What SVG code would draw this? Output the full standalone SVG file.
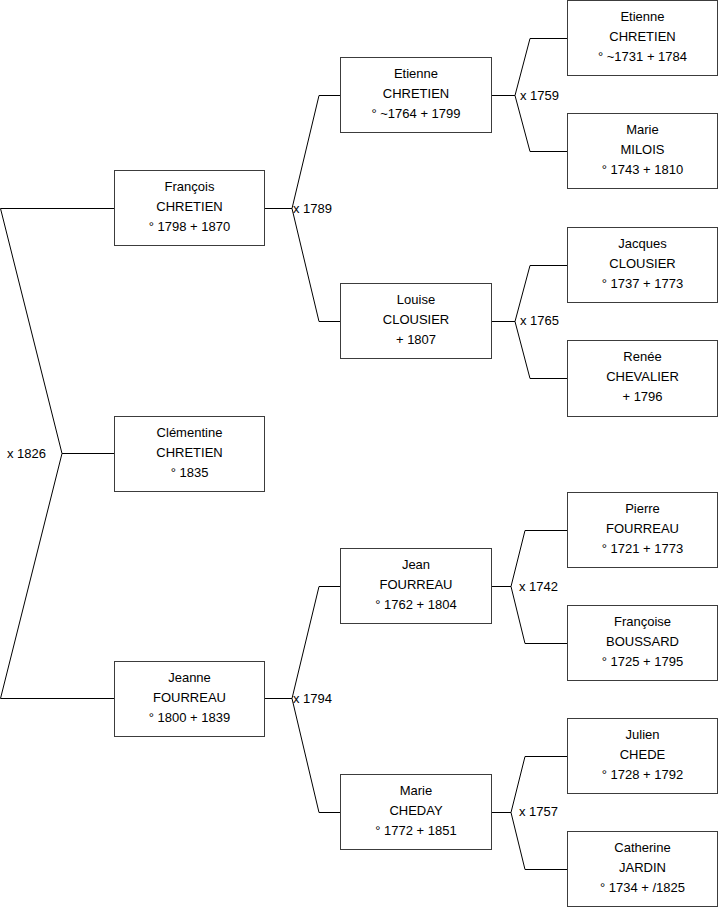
<svg xmlns="http://www.w3.org/2000/svg" width="719" height="908" viewBox="0 0 719 908">
<style>
.box{fill:#fff;stroke:#3c3c3c;stroke-width:1}
.con{fill:none;stroke:#000;stroke-width:1}
text{font-family:"Liberation Sans",Arial,sans-serif;font-size:13px;fill:#000}
.c{text-anchor:middle}
</style>
<rect width="719" height="908" fill="#fff"/>
<g id="connectors" class="con">
<path d="M114 208.5H0.5L62 453.5L0.5 698.5H114M62 453.5H114"/>
<path d="M265 208.5H292M340 95.5H319L292 208.5L319 321.5H340"/>
<path d="M265 698.5H292M340 586.5H319L292 698.5L319 812.5H340"/>
<path d="M491 95.5H515M567 38.5H530L515 95.5L530 151.5H567"/>
<path d="M491 321.5H515M567 265.5H530L515 321.5L530 378.5H567"/>
<path d="M491 586.5H511M567 530.5H525L511 586.5L525 643.5H567"/>
<path d="M491 812.5H511M567 756.5H525L511 812.5L525 869.5H567"/>
</g>
<g id="labels">
<text x="7" y="458">x 1826</text>
<text x="293" y="213">x 1789</text>
<text x="293" y="703">x 1794</text>
<text x="520" y="100">x 1759</text>
<text x="520" y="325">x 1765</text>
<text x="519" y="591">x 1742</text>
<text x="519" y="816">x 1757</text>
</g>
<g id="francois"><rect class="box" x="114.5" y="170.5" width="150" height="75"/><text class="c" x="189.5" y="191">François</text><text class="c" x="189.5" y="211">CHRETIEN</text><text class="c" x="189.5" y="231">° 1798 + 1870</text></g>
<g id="clementine"><rect class="box" x="114.5" y="416.5" width="150" height="75"/><text class="c" x="189.5" y="437">Clémentine</text><text class="c" x="189.5" y="457">CHRETIEN</text><text class="c" x="189.5" y="477">° 1835</text></g>
<g id="jeanne"><rect class="box" x="114.5" y="661.5" width="150" height="75"/><text class="c" x="189.5" y="682">Jeanne</text><text class="c" x="189.5" y="702">FOURREAU</text><text class="c" x="189.5" y="722">° 1800 + 1839</text></g>
<g id="etienne1"><rect class="box" x="340.5" y="57.5" width="151" height="75"/><text class="c" x="416" y="78">Etienne</text><text class="c" x="416" y="98">CHRETIEN</text><text class="c" x="416" y="118">° ~1764 + 1799</text></g>
<g id="louise"><rect class="box" x="340.5" y="283.5" width="151" height="75"/><text class="c" x="416" y="304">Louise</text><text class="c" x="416" y="324">CLOUSIER</text><text class="c" x="416" y="344">+ 1807</text></g>
<g id="jean"><rect class="box" x="340.5" y="548.5" width="151" height="75"/><text class="c" x="416" y="569">Jean</text><text class="c" x="416" y="589">FOURREAU</text><text class="c" x="416" y="609">° 1762 + 1804</text></g>
<g id="marie1"><rect class="box" x="340.5" y="774.5" width="151" height="75"/><text class="c" x="416" y="795">Marie</text><text class="c" x="416" y="815">CHEDAY</text><text class="c" x="416" y="835">° 1772 + 1851</text></g>
<g id="etienne2"><rect class="box" x="567.5" y="0.5" width="150" height="75"/><text class="c" x="642.5" y="21">Etienne</text><text class="c" x="642.5" y="41">CHRETIEN</text><text class="c" x="642.5" y="61">° ~1731 + 1784</text></g>
<g id="marie2"><rect class="box" x="567.5" y="113.5" width="150" height="75"/><text class="c" x="642.5" y="134">Marie</text><text class="c" x="642.5" y="154">MILOIS</text><text class="c" x="642.5" y="174">° 1743 + 1810</text></g>
<g id="jacques"><rect class="box" x="567.5" y="227.5" width="150" height="75"/><text class="c" x="642.5" y="248">Jacques</text><text class="c" x="642.5" y="268">CLOUSIER</text><text class="c" x="642.5" y="288">° 1737 + 1773</text></g>
<g id="renee"><rect class="box" x="567.5" y="340.5" width="150" height="76"/><text class="c" x="642.5" y="361">Renée</text><text class="c" x="642.5" y="381">CHEVALIER</text><text class="c" x="642.5" y="401">+ 1796</text></g>
<g id="pierre"><rect class="box" x="567.5" y="492.5" width="150" height="75"/><text class="c" x="642.5" y="513">Pierre</text><text class="c" x="642.5" y="533">FOURREAU</text><text class="c" x="642.5" y="553">° 1721 + 1773</text></g>
<g id="francoise"><rect class="box" x="567.5" y="605.5" width="150" height="75"/><text class="c" x="642.5" y="626">Françoise</text><text class="c" x="642.5" y="646">BOUSSARD</text><text class="c" x="642.5" y="666">° 1725 + 1795</text></g>
<g id="julien"><rect class="box" x="567.5" y="718.5" width="150" height="75"/><text class="c" x="642.5" y="739">Julien</text><text class="c" x="642.5" y="759">CHEDE</text><text class="c" x="642.5" y="779">° 1728 + 1792</text></g>
<g id="catherine"><rect class="box" x="567.5" y="831.5" width="150" height="75"/><text class="c" x="642.5" y="852">Catherine</text><text class="c" x="642.5" y="872">JARDIN</text><text class="c" x="642.5" y="892">° 1734 + /1825</text></g>
</svg>
